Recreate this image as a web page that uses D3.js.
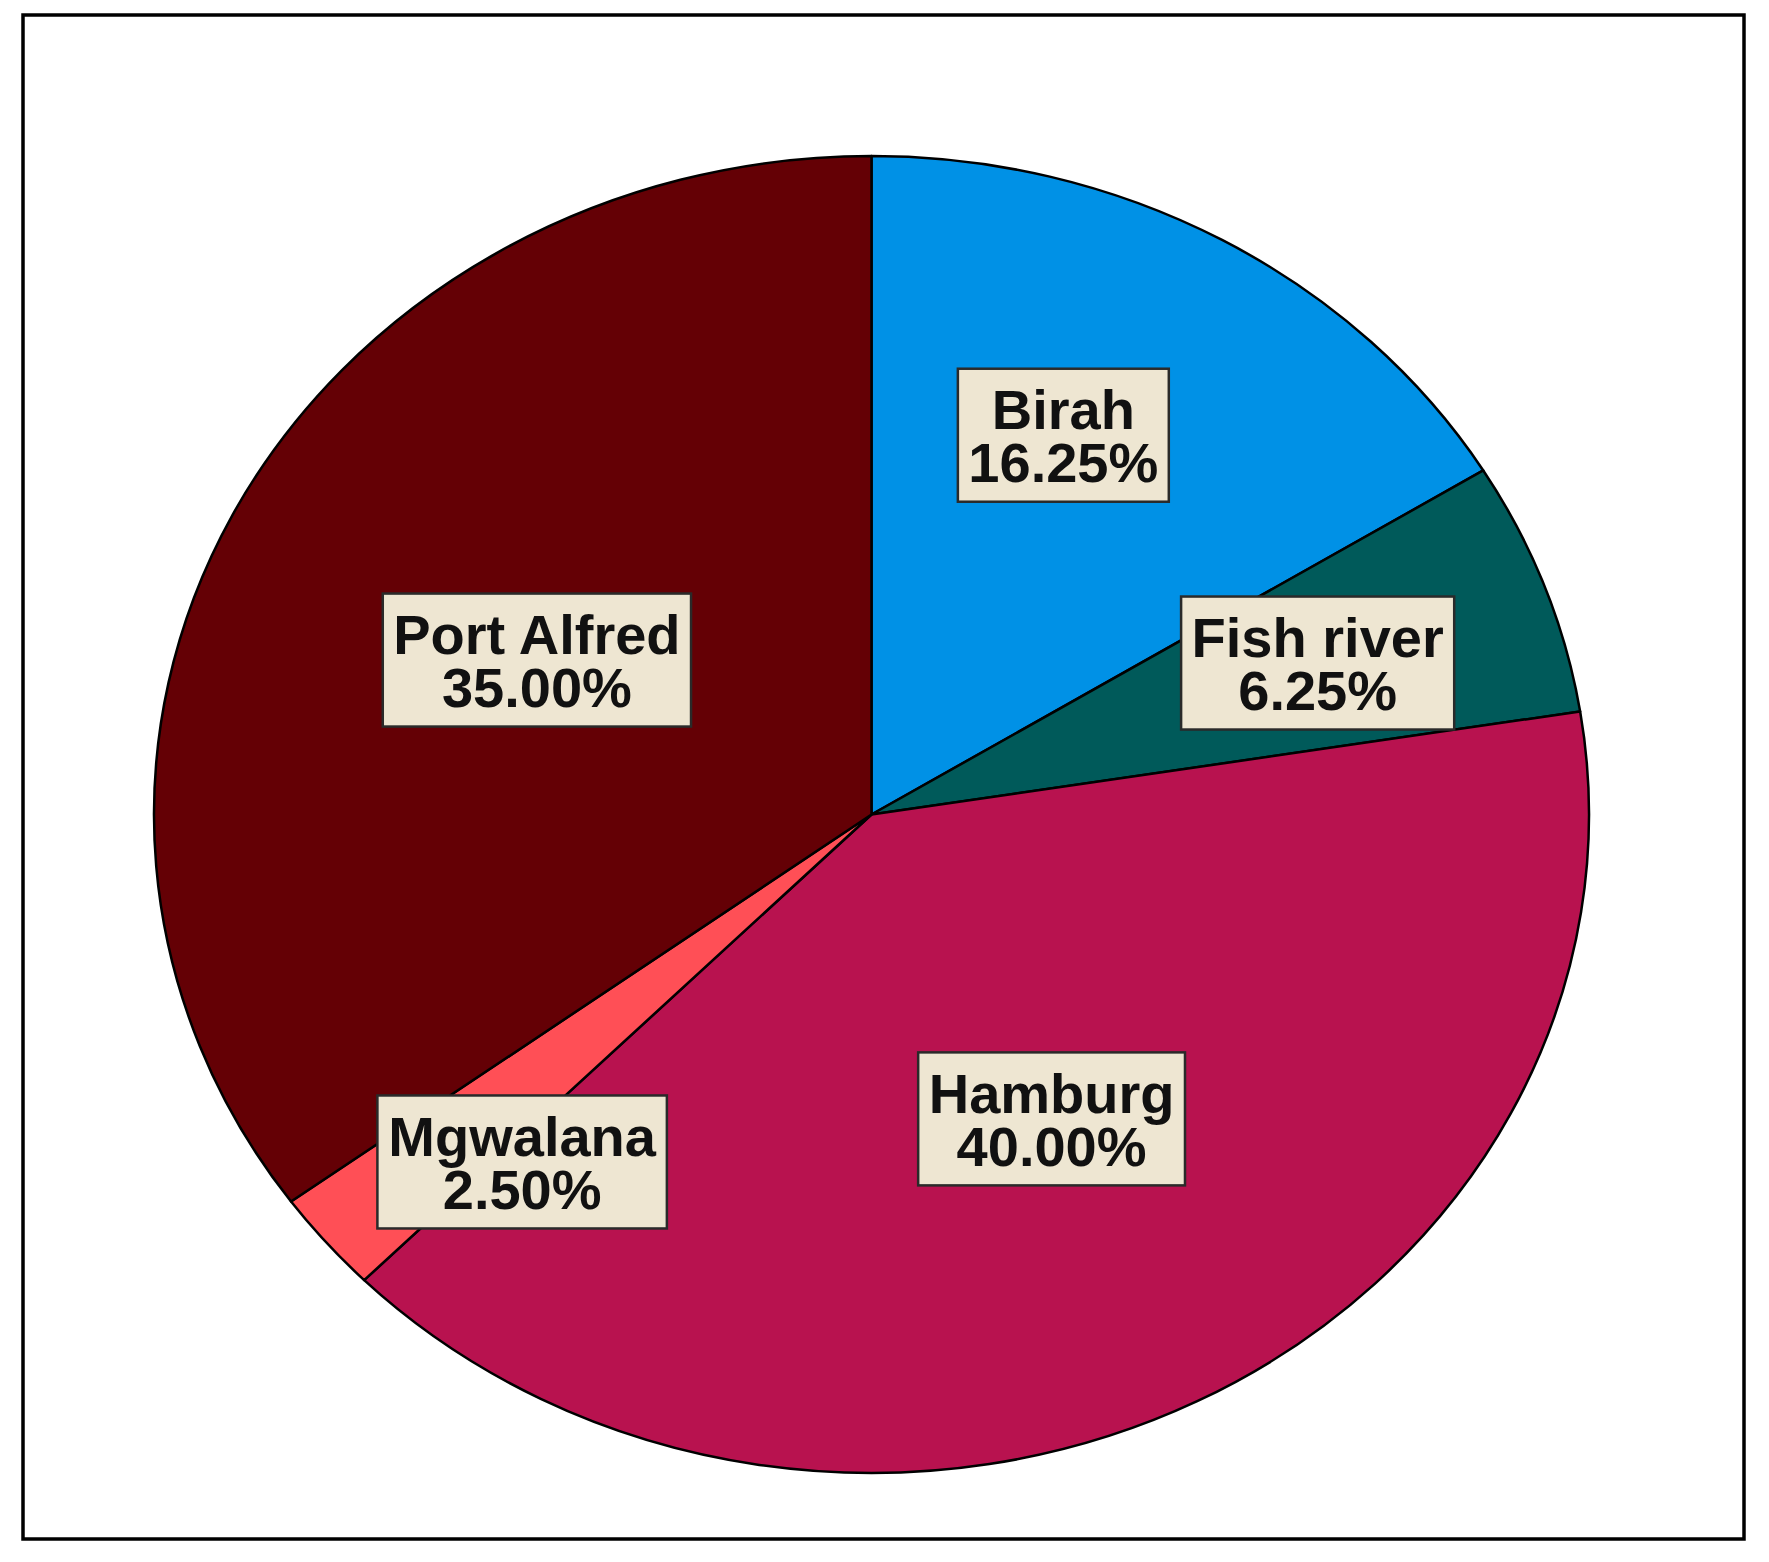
<!DOCTYPE html>
<html>
<head>
<meta charset="utf-8">
<script src="https://cdn.jsdelivr.net/npm/d3@7/dist/d3.min.js"></script>
<style>
  html, body { margin: 0; padding: 0; background: #ffffff; }
  svg { display: block; }
</style>
</head>
<body>
<svg id="chart" width="1769" height="1562"></svg>
<script>
// ---- data ----
const categories = ["Birah", "Fish river", "Hamburg", "Mgwalana", "Port Alfred"];
const percentages = [16.25, 6.25, 40.00, 2.50, 35.00];
const sliceColors = ["#0091e6", "#005a5a", "#b8124f", "#ff4f56", "#640005"];

// ---- label layout (angle in degrees from 12 o'clock, radius fraction) ----
const labelAngles = [24.9, 69.7, 151.5, 222.7, 296.7];
const labelRadii = [0.635, 0.663, 0.526, 0.718, 0.522];

const svg = d3.select("#chart");
const W = 1769, H = 1562;

svg.append("rect").attr("width", W).attr("height", H).attr("fill", "#ffffff");

// frame
svg.append("rect")
  .attr("x", 23).attr("y", 15)
  .attr("width", 1744 - 23).attr("height", 1539 - 15)
  .attr("fill", "none").attr("stroke", "#000").attr("stroke-width", 3.5);

const cx = 871.5, cy = 814.5, rx = 717.5, ry = 658.5;

const pie = d3.pie().sort(null).value(d => d.value)
  .startAngle(0).endAngle(2 * Math.PI);
const data = categories.map((c, i) => ({ name: c, value: percentages[i], color: sliceColors[i], i }));
const arcs = pie(data);

const arc = d3.arc().innerRadius(0).outerRadius(rx);

const g = svg.append("g")
  .attr("transform", `translate(${cx},${cy}) scale(1,${ry / rx})`);

g.selectAll("path.slice")
  .data(arcs)
  .enter().append("path")
  .attr("class", "slice")
  .attr("d", arc)
  .attr("fill", d => d.data.color)
  .attr("stroke", "#000")
  .attr("stroke-width", 2.5)
  .attr("stroke-linejoin", "round")
  .attr("vector-effect", "non-scaling-stroke");

// labels
const fmt = d3.format(".2f");
const lg = svg.append("g");
arcs.forEach((a, i) => {
  const ang = labelAngles[i] * Math.PI / 180;
  const r = labelRadii[i];
  const x = cx + Math.sin(ang) * rx * r;
  const y = cy - Math.cos(ang) * ry * r;
  const grp = lg.append("g").attr("transform", `translate(${x},${y})`);
  const box = grp.append("rect");
  const t = grp.append("text")
    .attr("text-anchor", "middle")
    .attr("font-family", "'Liberation Sans', Arial, sans-serif")
    .attr("font-weight", "bold")
    .attr("font-size", 56)
    .attr("fill", "#111");
  t.append("tspan").attr("x", 0).attr("y", -6).text(a.data.name);
  t.append("tspan").attr("x", 0).attr("y", 47).text(fmt(a.data.value) + "%");
  const bb = t.node().getBBox();
  const w = bb.width + 21;
  const h = 133;
  box.attr("x", -w / 2).attr("y", -h / 2)
    .attr("width", w).attr("height", h)
    .attr("fill", "#eee6d2")
    .attr("stroke", "#2a2a2a")
    .attr("stroke-width", 2.5);
});
</script>
</body>
</html>
